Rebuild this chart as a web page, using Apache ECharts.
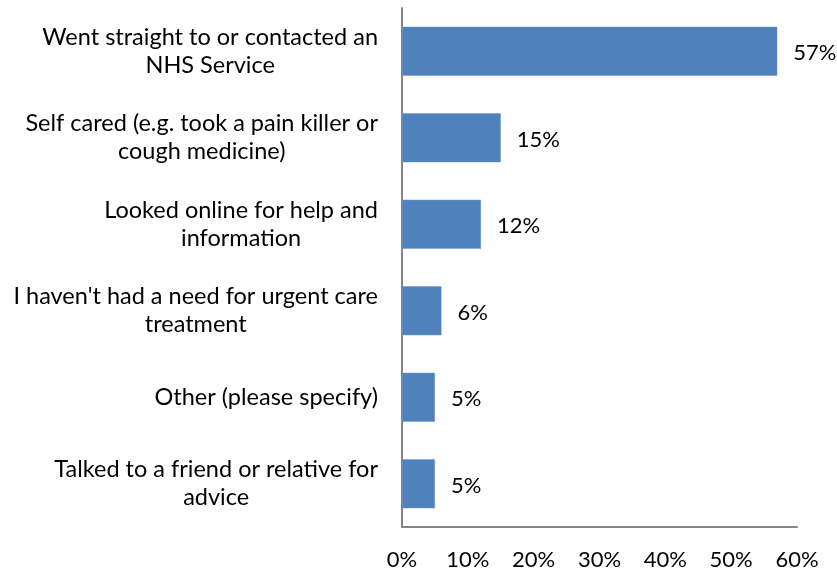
<!DOCTYPE html>
<html>
<head>
<meta charset="utf-8">
<script src="https://cdn.jsdelivr.net/npm/echarts@6/dist/echarts.min.js"></script>
<style>
  html, body { margin: 0; padding: 0; background: #fff; }
  #chart { width: 837px; height: 571px; }
</style>
</head>
<body>
<div id="chart"></div>
<script>
// Survey responses: what people did the last time they needed urgent care
const categories = [
  'Went straight to or contacted an\nNHS Service',
  'Self cared (e.g. took a pain killer or\ncough medicine)',
  'Looked online for help and\ninformation',
  "I haven't had a need for urgent care\ntreatment",
  'Other (please specify)',
  'Talked to a friend or relative for\nadvice'
];
const percentages = [57, 15, 12, 6, 5, 5];
const xTicks = [0, 10, 20, 30, 40, 50, 60];

const FONT = 'Lato';
const SIZE = 22;
const CAT_SIZE = 23.5;

const chart = echarts.init(document.getElementById('chart'), null, { renderer: 'canvas' });

chart.setOption({
  animation: false,
  backgroundColor: '#ffffff',
  grid: {
    left: 402, right: 40, top: 8, bottom: 44,
    containLabel: false,
    outerBoundsMode: 'none'
  },
  xAxis: {
    type: 'value',
    min: xTicks[0],
    max: xTicks[xTicks.length - 1],
    interval: xTicks[1] - xTicks[0],
    axisLine: { show: true, lineStyle: { color: '#868686', width: 2 } },
    axisTick: { show: false },
    splitLine: { show: false },
    axisLabel: {
      margin: 22,
      color: '#000',
      fontFamily: FONT,
      fontSize: SIZE,
      formatter: v => v + '%'
    }
  },
  yAxis: {
    type: 'category',
    inverse: true,
    data: categories,
    axisLine: { show: true, lineStyle: { color: '#868686', width: 2 } },
    axisTick: { show: false },
    axisLabel: {
      margin: 24,
      color: '#000',
      fontFamily: FONT,
      fontSize: CAT_SIZE,
      lineHeight: 28,
      formatter: v => v.split('\n').map(line => '{c|' + line + '}').join('\n'),
      rich: {
        c: { align: 'center', color: '#000', fontFamily: FONT, fontSize: CAT_SIZE, lineHeight: 28 }
      }
    }
  },
  series: [{
    type: 'bar',
    data: percentages,
    barWidth: 49,
    itemStyle: { color: '#4F81BD', borderColor: '#6f98cc', borderWidth: 0.5 },
    label: {
      show: true,
      position: 'right',
      distance: 16,
      color: '#000',
      fontFamily: FONT,
      fontSize: SIZE,
      offset: [0, 2],
      formatter: p => p.value + '%'
    }
  }]
});
</script>
</body>
</html>
